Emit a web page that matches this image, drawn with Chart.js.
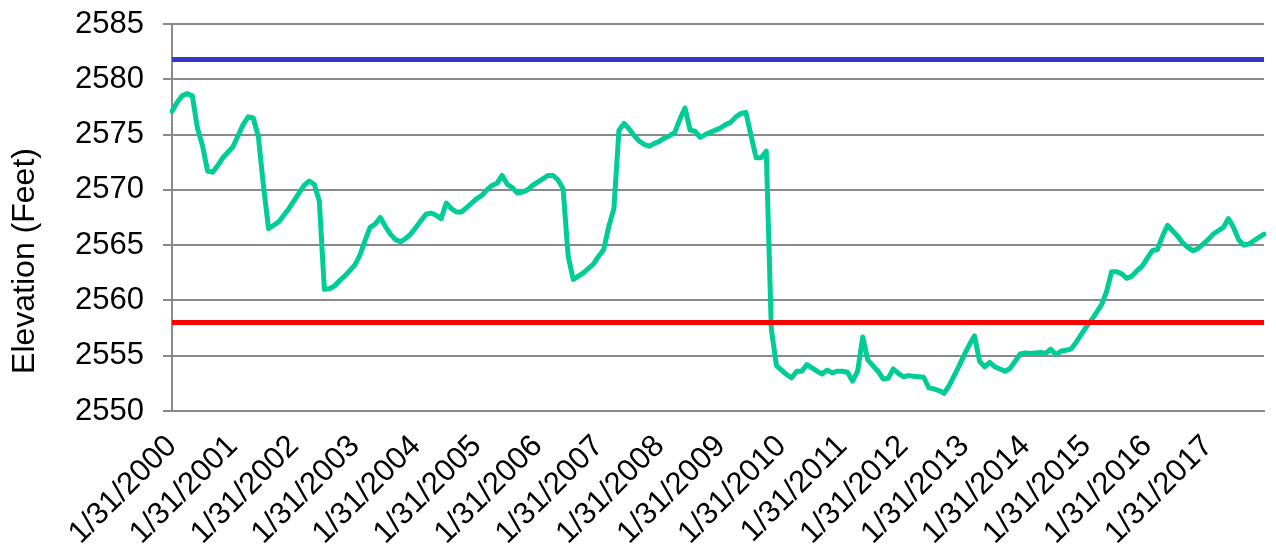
<!DOCTYPE html>
<html>
<head>
<meta charset="utf-8">
<script src="https://cdn.jsdelivr.net/npm/chart.js@4.4.1/dist/chart.umd.min.js"></script>
<style>
html,body{margin:0;padding:0;background:#ffffff;}
#wrap{width:1276px;height:547px;position:relative;}
canvas{display:block;}
</style>
</head>
<body>
<div id="wrap"><canvas id="c" width="1276" height="547"></canvas></div>
<script>
// ---- data ----
const years = [2000,2001,2002,2003,2004,2005,2006,2007,2008,2009,2010,2011,2012,2013,2014,2015,2016,2017];

// monthly end-of-month reservoir elevation (feet), Jan 2000 .. Dec 2017
const elevation = [
  2577.1,2577.9,2578.5,2578.7,2578.5,2575.6,2574.0,2571.7,2571.6,2572.2,2572.9,2573.4, // 2000
  2573.9,2574.9,2575.9,2576.6,2576.5,2574.8,2570.4,2566.5,2566.8,2567.1,2567.7,2568.3, // 2001
  2569.0,2569.7,2570.4,2570.8,2570.5,2569.0,2561.0,2561.05,2561.3,2561.8,2562.2,2562.7, // 2002
  2563.2,2564.1,2565.4,2566.6,2566.9,2567.5,2566.7,2566.0,2565.5,2565.3,2565.6,2566.0, // 2003
  2566.6,2567.2,2567.8,2567.9,2567.7,2567.4,2568.8,2568.3,2568.0,2568.0,2568.4,2568.8, // 2004
  2569.2,2569.5,2570.0,2570.4,2570.6,2571.3,2570.5,2570.2,2569.7,2569.8,2570.0,2570.4, // 2005
  2570.7,2571.0,2571.3,2571.3,2570.9,2570.1,2564.0,2561.9,2562.2,2562.5,2562.9,2563.3, // 2006
  2564.0,2564.6,2566.7,2568.3,2575.4,2576.0,2575.5,2574.9,2574.4,2574.1,2573.95,2574.2, // 2007
  2574.4,2574.7,2574.9,2575.2,2576.4,2577.4,2575.4,2575.3,2574.75,2575.0,2575.2,2575.4, // 2008
  2575.6,2575.9,2576.1,2576.6,2576.9,2577.0,2574.9,2572.9,2572.9,2573.5,2557.4,2554.1, // 2009
  2553.7,2553.3,2553.0,2553.6,2553.6,2554.2,2553.9,2553.6,2553.35,2553.7,2553.45,2553.6, // 2010
  2553.6,2553.5,2552.7,2553.6,2556.7,2554.6,2554.1,2553.6,2552.9,2552.95,2553.8,2553.4, // 2011
  2553.1,2553.2,2553.15,2553.1,2553.05,2552.1,2552.0,2551.85,2551.6,2552.3,2553.2,2554.1, // 2012
  2555.1,2556.0,2556.8,2554.5,2554.0,2554.4,2554.0,2553.8,2553.6,2553.85,2554.5,2555.15, // 2013
  2555.25,2555.2,2555.25,2555.3,2555.2,2555.6,2555.1,2555.4,2555.5,2555.6,2556.2,2556.9, // 2014
  2557.6,2558.2,2558.9,2559.6,2560.8,2562.6,2562.6,2562.4,2562.0,2562.2,2562.7,2563.1, // 2015
  2563.8,2564.5,2564.6,2565.8,2566.8,2566.3,2565.8,2565.2,2564.8,2564.5,2564.7,2565.1, // 2016
  2565.5,2566.0,2566.3,2566.6,2567.4,2566.6,2565.5,2565.0,2565.1,2565.4,2565.7,2566.0  // 2017
];

const upperLevel = 2581.8;   // blue reference line
const lowerLevel = 2558.0;   // red reference line

const yTicks = [2550,2555,2560,2565,2570,2575,2580,2585];
const xTickLabels = ['1/31/2000','1/31/2001','1/31/2002','1/31/2003','1/31/2004','1/31/2005',
  '1/31/2006','1/31/2007','1/31/2008','1/31/2009','1/31/2010','1/31/2011','1/31/2012',
  '1/31/2013','1/31/2014','1/31/2015','1/31/2016','1/31/2017'];
const yTitle = 'Elevation (Feet)';

// month-end category labels
const categories = [];
years.forEach(function(y){
  for (let m = 1; m <= 12; m++) {
    const d = new Date(y, m, 0).getDate();
    categories.push(m + '/' + d + '/' + y);
  }
});

const FONT = "'Liberation Sans', Arial, sans-serif";
const GRID = '#8a8a8a';

// axis title drawn centred on the full chart height, as in the original
const yTitlePlugin = {
  id: 'yTitlePlugin',
  afterDraw: function(chart) {
    const ctx = chart.ctx;
    ctx.save();
    ctx.translate(25, 261);
    ctx.rotate(-Math.PI / 2);
    ctx.fillStyle = '#000';
    ctx.font = "32px " + FONT;
    ctx.textAlign = 'center';
    ctx.textBaseline = 'middle';
    ctx.fillText(yTitle, 0, 0);
    ctx.restore();
  }
};

new Chart(document.getElementById('c').getContext('2d'), {
  type: 'line',
  data: {
    labels: categories,
    datasets: [
      { label: 'Elevation', data: elevation, borderColor: '#00CC96', borderWidth: 5,
        pointRadius: 0, tension: 0, fill: false, order: 2, borderJoinStyle: 'round', borderCapStyle: 'round' },
      { label: 'Upper', data: categories.map(function(){ return upperLevel; }), borderColor: '#3737C6',
        borderWidth: 5, pointRadius: 0, fill: false, order: 1 },
      { label: 'Lower', data: categories.map(function(){ return lowerLevel; }), borderColor: '#FF0000',
        borderWidth: 5, pointRadius: 0, fill: false, order: 0 }
    ]
  },
  plugins: [yTitlePlugin],
  options: {
    responsive: false,
    animation: false,
    events: [],
    layout: { padding: { left: 0, right: 12, top: 24, bottom: 0 } },
    plugins: { legend: { display: false }, tooltip: { enabled: false } },
    scales: {
      x: {
        type: 'category',
        offset: false,
        grid: { display: false, drawTicks: false },
        border: { display: true, color: GRID, width: 2 },
        ticks: {
          autoSkip: false, maxRotation: 45, minRotation: 45, padding: 17,
          color: '#000', font: { family: FONT, size: 31 },
          callback: function(v) {
            const l = this.getLabelForValue(v);
            return xTickLabels.indexOf(l) >= 0 ? l : '';
          }
        },
        afterFit: function(s) { s.height = 136; s.paddingLeft = 0; s.paddingRight = 0; }
      },
      y: {
        min: 2550, max: 2585,
        afterBuildTicks: function(s) { s.ticks = yTicks.map(function(v){ return { value: v }; }); },
        grid: { color: GRID, lineWidth: 2, tickLength: 9, drawTicks: true },
        border: { display: true, color: GRID, width: 2 },
        ticks: { padding: 19, color: '#000', font: { family: FONT, size: 31 },
                 callback: function(v) { return String(v); } },
        title: { display: false },
        afterFit: function(s) { s.width = 172; s.paddingTop = 0; s.paddingBottom = 0; }
      }
    }
  }
});
</script>
</body>
</html>
